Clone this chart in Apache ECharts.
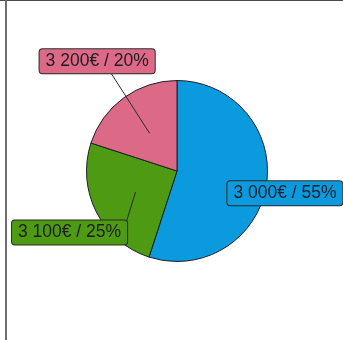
<!DOCTYPE html>
<html>
<head>
<meta charset="utf-8">
<script src="https://cdn.jsdelivr.net/npm/echarts@6/dist/echarts.min.js"></script>
<style>
  html, body { margin: 0; padding: 0; background: #ffffff; }
  #chart { width: 343px; height: 340px; }
</style>
</head>
<body>
<div id="chart"></div>
<script>
// Budget split: amount in euros and share of the whole, per slice
const amounts = [3000, 3100, 3200];
const shares = [55, 25, 20];
const sliceColors = ['#0A9ADD', '#4E9A13', '#DC6A86'];

// Label placement relative to the leader anchor inside each slice (px)
const labelOffsets = [[62, 15], [-66, 40.5], [-52.5, -72]];
// Where the leader meets the label box, relative to the label centre (px)
const leaderEnds = [null, [57, -11.5], [14, 12]];

const PIE_CENTER = [177, 171];
const PIE_RADIUS = 90.5;

function euro(v) {
  return String(v).replace(/\B(?=(\d{3})+(?!\d))/g, ' ') + '€';
}

const chart = echarts.init(document.getElementById('chart'), null, { renderer: 'canvas' });

const sliceData = shares.map((s, i) => ({
  value: s,
  amount: amounts[i],
  itemStyle: { color: sliceColors[i] }
}));

// Same slices, used only to carry the labels and their leaders from mid-radius
const anchorData = shares.map((s, i) => ({
  value: s,
  amount: amounts[i],
  itemStyle: { color: 'rgba(0,0,0,0)' },
  label: { backgroundColor: sliceColors[i] }
}));

const option = {
  animation: false,
  backgroundColor: '#ffffff',
  graphic: [
    { type: 'line', shape: { x1: 0, y1: 0.5, x2: 343, y2: 0.5 }, style: { stroke: '#4a4a4a', lineWidth: 1.2 }, silent: true },
    { type: 'line', shape: { x1: 6, y1: 0, x2: 6, y2: 340 }, style: { stroke: '#6e6e6e', lineWidth: 2 }, silent: true }
  ],
  series: [
    {
      type: 'pie',
      z: 2,
      center: PIE_CENTER,
      radius: PIE_RADIUS,
      startAngle: 90,
      clockwise: true,
      silent: true,
      avoidLabelOverlap: false,
      label: { show: false },
      labelLine: { show: false },
      itemStyle: { borderColor: '#1e1e2a', borderWidth: 1 },
      emphasis: { disabled: true },
      data: sliceData
    },
    {
      type: 'pie',
      z: 10,
      center: PIE_CENTER,
      radius: PIE_RADIUS * 0.514,
      startAngle: 90,
      clockwise: true,
      silent: true,
      avoidLabelOverlap: false,
      itemStyle: { borderWidth: 0 },
      emphasis: { disabled: true },
      label: {
        show: true,
        position: 'outside',
        formatter: p => euro(p.data.amount) + ' / ' + p.value + '%',
        fontFamily: 'Liberation Sans, Arial, sans-serif',
        fontSize: 17.5,
        lineHeight: 18,
        color: '#1d1d24',
        borderColor: '#2a2a2a',
        borderWidth: 1,
        borderRadius: 3,
        padding: [3, 6]
      },
      labelLine: {
        show: true,
        length: 4,
        length2: 4,
        lineStyle: { color: '#2b2b2b', width: 1 }
      },
      labelLayout: function (params) {
        const i = params.dataIndex;
        const pts = params.labelLinePoints;
        const a = pts[0];
        const cx = a[0] + labelOffsets[i][0];
        const cy = a[1] + labelOffsets[i][1];
        const end = leaderEnds[i];
        const linePts = end ? [[a[0], a[1]], [cx + end[0], cy + end[1]]] : [[a[0], a[1]], [a[0], a[1]]];
        return {
          x: cx,
          y: cy,
          align: 'center',
          verticalAlign: 'middle',
          labelLinePoints: linePts
        };
      },
      data: anchorData
    }
  ]
};

chart.setOption(option);
</script>
</body>
</html>
